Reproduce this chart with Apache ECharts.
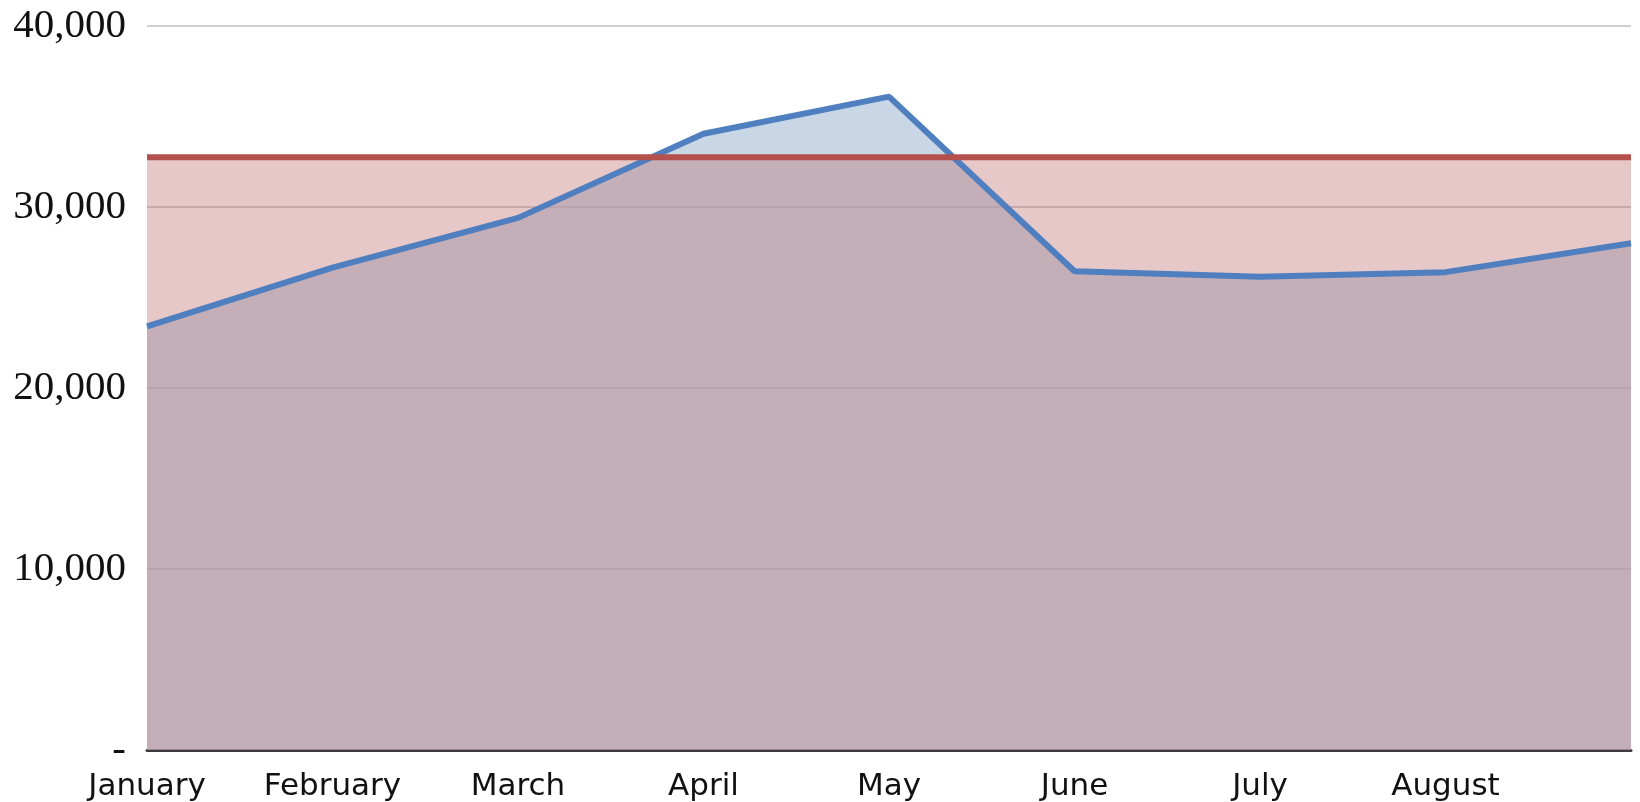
<!DOCTYPE html>
<html>
<head>
<meta charset="utf-8">
<script src="https://cdn.jsdelivr.net/npm/echarts@6/dist/echarts.min.js"></script>
<style>
  html, body { margin: 0; padding: 0; background: #ffffff; }
  #chart { width: 1640px; height: 802px; }
</style>
</head>
<body>
<div id="chart"></div>
<script>
const categories = ['January', 'February', 'March', 'April', 'May', 'June', 'July', 'August', 'September'];
const actualValues = [23400, 26650, 29400, 34050, 36100, 26450, 26150, 26400, 28000];
const targetValues = [32750, 32750, 32750, 32750, 32750, 32750, 32750, 32750, 32750];
const yTicks = { min: 0, max: 40000, interval: 10000 };
const visibleLabelCount = 8;

const chart = echarts.init(document.getElementById('chart'), null, { renderer: 'canvas' });

chart.setOption({
  animation: false,
  backgroundColor: '#ffffff',
  grid: { left: 147, right: 9, top: 26, bottom: 52, containLabel: false },
  xAxis: {
    type: 'category',
    data: categories,
    boundaryGap: false,
    axisLine: { show: true, lineStyle: { color: '#3c3c3c', width: 3 } },
    axisTick: { show: false },
    splitLine: { show: false },
    axisLabel: {
      interval: function (i) { return i < visibleLabelCount; },
      fontFamily: 'DejaVu Sans',
      fontSize: 31,
      color: '#111111',
      margin: 21
    }
  },
  yAxis: {
    type: 'value',
    min: yTicks.min,
    max: yTicks.max,
    interval: yTicks.interval,
    axisLine: { show: false },
    axisTick: { show: false },
    splitLine: { show: true, lineStyle: { color: '#cfcfcf', width: 2 } },
    axisLabel: {
      fontFamily: 'Liberation Serif',
      fontSize: 41,
      color: '#111111',
      margin: 21,
      formatter: function (v) { return v === 0 ? '-' : v.toLocaleString('en-US'); }
    }
  },
  series: [
    {
      name: 'Actual area',
      type: 'line',
      data: actualValues,
      symbol: 'none',
      z: 2,
      lineStyle: { width: 0, opacity: 0 },
      areaStyle: { color: 'rgba(172,192,217,0.65)', opacity: 1 },
      silent: true
    },
    {
      name: 'Target area',
      type: 'line',
      data: targetValues,
      symbol: 'none',
      z: 3,
      lineStyle: { width: 0, opacity: 0 },
      areaStyle: { color: 'rgba(187,106,106,0.37)', opacity: 1 },
      silent: true
    },
    {
      name: 'Actual',
      type: 'line',
      data: actualValues,
      symbol: 'none',
      z: 4,
      lineStyle: { color: '#4f7fbf', width: 6 }
    },
    {
      name: 'Target',
      type: 'line',
      data: targetValues,
      symbol: 'none',
      z: 5,
      lineStyle: { color: '#b5514d', width: 6 }
    }
  ]
});
</script>
</body>
</html>
